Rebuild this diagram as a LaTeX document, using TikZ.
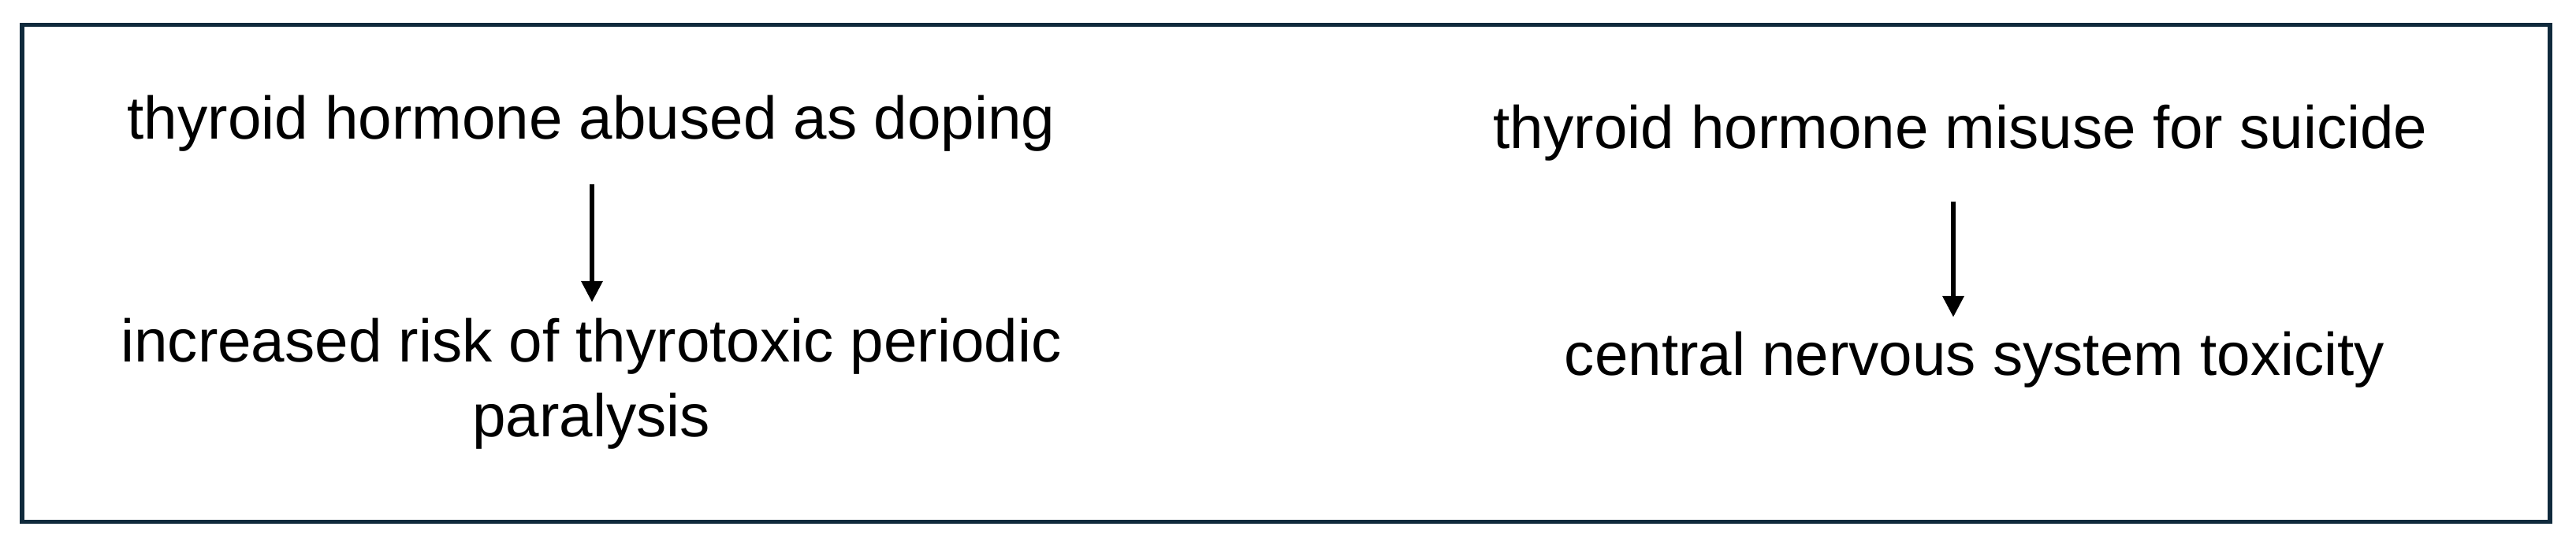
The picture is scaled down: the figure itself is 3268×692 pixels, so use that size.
\documentclass[tikz,border=0pt]{standalone}
\usepackage{fontspec}
\setmainfont{Liberation Sans}
\usetikzlibrary{arrows.meta}
\definecolor{framecol}{RGB}{16,42,60}
\tikzset{
  lbl/.style={inner sep=0pt, anchor=base, align=center, font=\fontsize{19.1}{23.75}\selectfont, text=black},
  arr/.style={-{Triangle[width=6.5pt,length=6.75pt]}, line width=1.6pt, black},
}
\begin{document}
\begin{tikzpicture}[x=0.25pt,y=-0.25pt]
\useasboundingbox (0,0) rectangle (3268,692);
\draw[framecol, line width=1.4pt] (28,31.5) rectangle (3235,662.7);
% left column
\node[lbl] (dop) at (750,177) {thyroid hormone abused as doping};
\node[lbl] (tpp) at (750,555) {increased risk of thyrotoxic periodic\\paralysis};
\coordinate (lx) at (751,0);
\draw[arr, shorten <=10pt, shorten >=5pt] (dop.south -| lx) -- (tpp.north -| lx);
% right column
\node[lbl] (sui) at (2487,189) {thyroid hormone misuse for suicide};
\node[lbl] (cns) at (2505,477) {central nervous system toxicity};
\coordinate (rx) at (2478,0);
\draw[arr, shorten <=12.5pt, shorten >=4.5pt] (sui.south -| rx) -- (cns.north -| rx);
\end{tikzpicture}
\end{document}
